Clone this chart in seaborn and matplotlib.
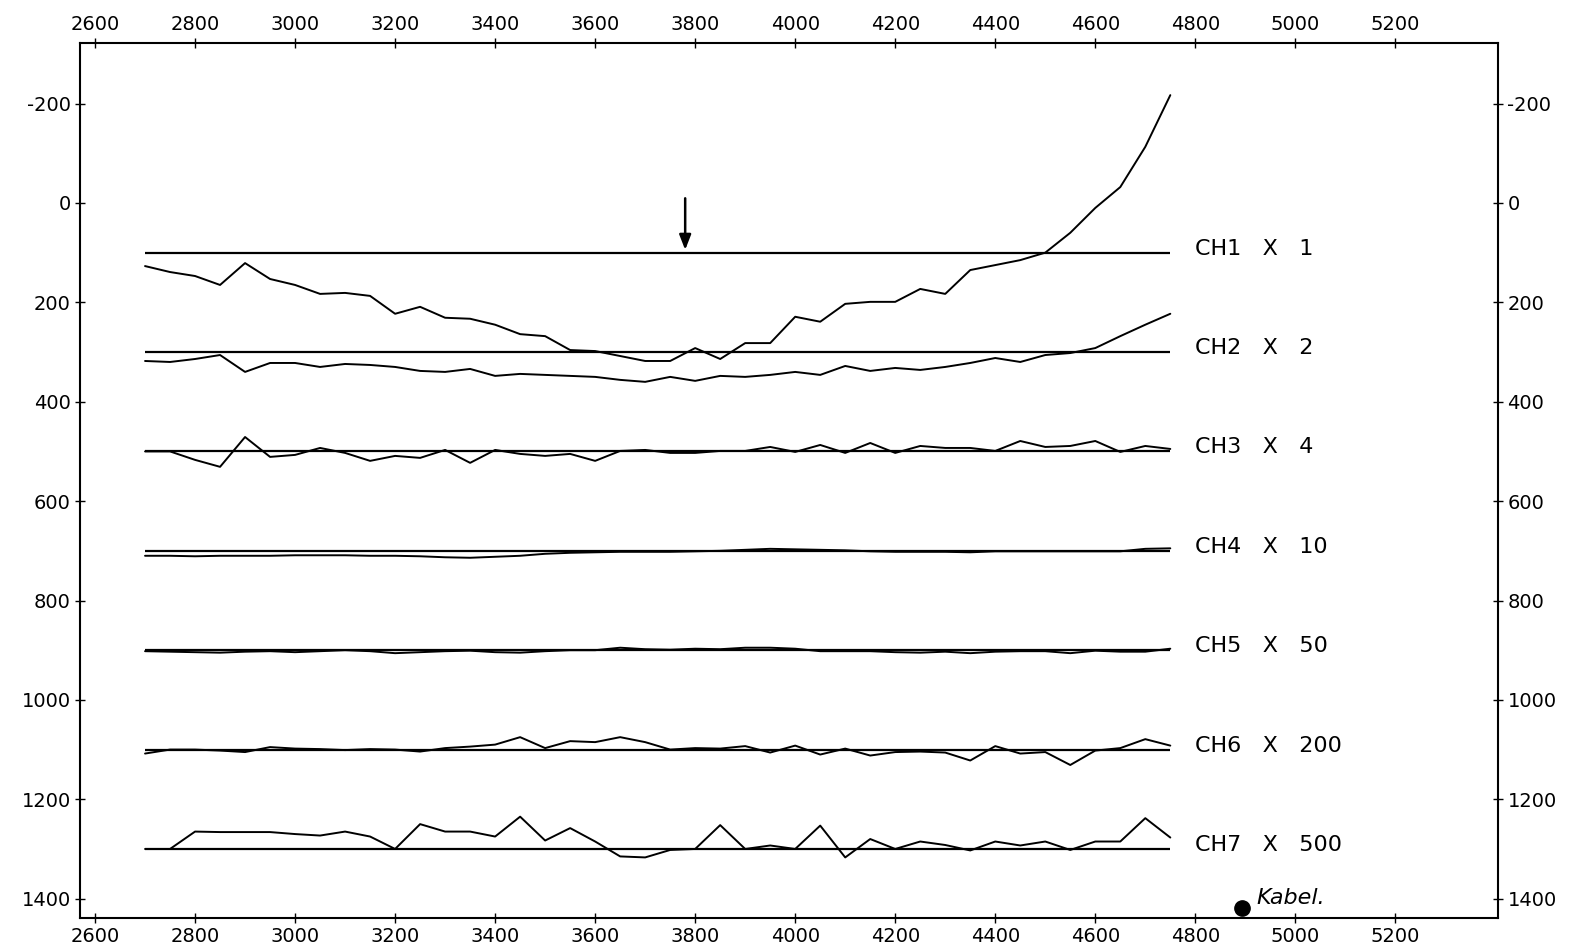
import numpy as np
import pandas as pd
import matplotlib
matplotlib.use("Agg")
import matplotlib.pyplot as plt
import seaborn as sns

x_start, x_step, n_pts = 2700, 50, 42
depth = [x_start + i * x_step for i in range(n_pts)]

channels = ["CH1", "CH2", "CH3", "CH4", "CH5", "CH6", "CH7"]
gains = ["1", "2", "4", "10", "50", "200", "500"]
baselines = [100, 300, 500, 700, 900, 1100, 1300]

ch1 = [127, 139, 147, 165, 121, 153, 165, 183, 181, 187, 223, 209, 231, 233,
       245, 264, 268, 296, 298, 308, 318, 318, 292, 314, 282, 282, 229, 239,
       203, 199, 199, 173, 183, 135, 125, 115, 100, 60, 10, -32, -113, -217]
ch2 = [318, 320, 314, 306, 340, 322, 322, 330, 324, 326, 330, 338, 340, 334,
       348, 344, 346, 348, 350, 356, 360, 350, 358, 348, 350, 346, 340, 346,
       328, 338, 332, 336, 330, 322, 312, 320, 306, 302, 292, 268, 245, 223]
ch3 = [500, 500, 517, 531, 471, 511, 507, 493, 503, 519, 509, 513, 497, 523,
       497, 505, 509, 505, 519, 499, 497, 503, 503, 499, 499, 491, 501, 487,
       503, 483, 503, 489, 493, 493, 499, 479, 491, 489, 479, 501, 489, 495]
ch4 = [710, 710, 711, 710, 710, 710, 709, 709, 709, 710, 710, 711, 713, 714,
       712, 710, 706, 704, 703, 702, 702, 702, 701, 700, 698, 696, 697, 698,
       699, 701, 702, 702, 702, 703, 701, 701, 701, 701, 701, 701, 696, 695]
ch5 = [902, 903, 904, 905, 903, 902, 904, 902, 900, 902, 906, 904, 902, 901,
       904, 905, 902, 900, 900, 895, 898, 899, 897, 898, 895, 895, 897, 902,
       902, 902, 904, 905, 903, 906, 903, 902, 902, 906, 901, 903, 903, 897]
ch6 = [1108, 1100, 1100, 1102, 1105, 1095, 1098, 1099, 1101, 1099, 1100, 1104,
       1097, 1094, 1090, 1075, 1097, 1083, 1085, 1075, 1085, 1100, 1097, 1098,
       1093, 1106, 1092, 1110, 1098, 1112, 1105, 1104, 1106, 1122, 1093, 1108,
       1105, 1131, 1102, 1097, 1079, 1092]
ch7 = [1300, 1300, 1265, 1266, 1266, 1266, 1270, 1273, 1265, 1275, 1300, 1250,
       1265, 1265, 1275, 1235, 1283, 1258, 1285, 1315, 1317, 1302, 1300, 1252,
       1300, 1293, 1300, 1253, 1317, 1280, 1300, 1285, 1292, 1303, 1285, 1293,
       1285, 1302, 1285, 1285, 1238, 1277]
series = [ch1, ch2, ch3, ch4, ch5, ch6, ch7]

x_ticks = list(range(2600, 5201, 200))
y_ticks = list(range(-200, 1401, 200))
arrow_x, arrow_from, arrow_to = 3780, -15, 100
kabel_x, kabel_y = 4893, 1418

sns.set_style("white")
plt.rcParams["font.family"] = ["DejaVu Sans"]
plt.rcParams["axes.unicode_minus"] = False
plt.rcParams["text.color"] = "black"
plt.rcParams["xtick.color"] = "black"
plt.rcParams["ytick.color"] = "black"

fig = plt.figure(figsize=(15.69, 9.44), dpi=100)
ax = fig.add_axes([0.051, 0.0275, 0.904, 0.927])

rows = []
for name, vals in zip(channels, series):
    for d, v in zip(depth, vals):
        rows.append({"depth": d, "value": v, "channel": name})
df = pd.DataFrame(rows)

sns.lineplot(data=df, x="depth", y="value", units="channel", estimator=None,
             color="black", lw=1.4, ax=ax, legend=False)

ax.hlines(baselines, depth[0], depth[-1], colors="black", lw=1.6)

for name, g, b in zip(channels, gains, baselines):
    ax.text(4800, b - 8, f"{name}   X   {g}", fontsize=16, va="center",
            ha="left", color="black")

ax.annotate("", xy=(arrow_x, arrow_to), xytext=(arrow_x, arrow_from),
            arrowprops=dict(arrowstyle="-|>,head_width=0.35,head_length=0.9",
                            color="black", lw=1.8))

ax.plot([kabel_x], [kabel_y], "o", color="black", ms=11)
ax.text(kabel_x + 30, kabel_y - 20, "Kabel.", fontsize=16, style="italic",
        ha="left", va="center", color="black")

ax.set_xlim(2570, 5406)
ax.set_ylim(1439, -322)
ax.set_xticks(x_ticks)
ax.set_yticks(y_ticks)
ax.set_xlabel("")
ax.set_ylabel("")
ax.tick_params(axis="both", direction="inout", length=7, width=1, labelsize=14,
               top=True, right=True, labeltop=True, labelright=True,
               bottom=True, left=True, pad=3, colors="black")
for s in ax.spines.values():
    s.set_color("black")
    s.set_linewidth(1.5)

fig.savefig("out.png", dpi=100)
